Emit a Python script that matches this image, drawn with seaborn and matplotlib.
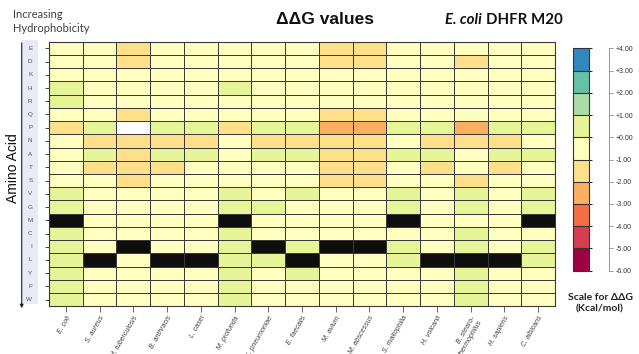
import numpy as np
import pandas as pd
import matplotlib
matplotlib.use("Agg")
import matplotlib.pyplot as plt
import seaborn as sns
from matplotlib.colors import ListedColormap, BoundaryNorm
from matplotlib.cm import ScalarMappable
from matplotlib.patches import Rectangle, FancyArrowPatch

# Residues ordered by increasing hydrophobicity (top to bottom)
residues = ["E", "D", "K", "H", "R", "Q", "P", "N", "A", "T",
            "S", "V", "G", "M", "C", "I", "L", "Y", "F", "W"]

species = ["E. coli", "S. aureus", "M. tuberculosis", "B. anthracis", "L. casei",
           "M. profunda", "K. pneumoniae", "E. faecalis", "M. avium", "M. abscessus",
           "S. maltophilia", "H. volcanii", "B. stearo-\nthermophilus", "H. sapiens",
           "C. albicans"]

# Native residue at position 20 for each species (shown in black)
native = ["M", "L", "I", "L", "L", "M", "I", "L", "I", "I", "M", "L", "L", "L", "M"]

# ddG (kcal/mol) per residue, in the order of `residues`
nan = np.nan
ddg_ecoli = [-0.5, -0.5, -0.5, 0.5, 0.5, -0.5, -1.5, -0.5, -0.5, -0.5,
             -0.5, 0.5, 0.5, 0.0, 0.5, 0.5, 0.5, 0.5, 0.5, 0.5]
ddg_saureus = [-0.5, -0.5, -0.5, -0.5, -0.5, -0.5, 0.5, -1.5, 0.5, -1.5,
               -0.5, -0.5, -0.5, -0.5, -0.5, -0.5, 0.0, -0.5, -0.5, -0.5]
ddg_mtub = [-1.5, -1.5, -0.5, -0.5, -0.5, -1.5, nan, -1.5, -1.5, -1.5,
            -1.5, -0.5, -0.5, -0.5, -0.5, 0.0, -0.5, -0.5, -0.5, -0.5]
ddg_banth = [-0.5, -0.5, -0.5, -0.5, -0.5, -0.5, 0.5, -1.5, 0.5, -1.5,
             -0.5, -0.5, -0.5, -0.5, -0.5, -0.5, 0.0, -0.5, -0.5, -0.5]
ddg_lcasei = [-0.5, -0.5, -0.5, -0.5, -0.5, -0.5, 0.5, -1.5, 0.5, -0.5,
              -0.5, -0.5, -0.5, -0.5, -0.5, -0.5, 0.0, -0.5, -0.5, -0.5]
ddg_mprof = [-0.5, -0.5, -0.5, 0.5, -0.5, -0.5, -1.5, -0.5, -0.5, -0.5,
             -0.5, 0.5, 0.5, 0.0, 0.5, 0.5, 0.5, 0.5, 0.5, 0.5]
ddg_kpneu = [-0.5, -0.5, -0.5, -0.5, -0.5, -0.5, 0.5, -1.5, 0.5, -0.5,
             -0.5, -0.5, 0.5, -0.5, -0.5, 0.0, 0.5, -0.5, -0.5, -0.5]
ddg_efaec = [-0.5, -0.5, -0.5, -0.5, -0.5, -0.5, 0.5, -1.5, 0.5, -0.5,
             -0.5, 0.5, -0.5, -0.5, -0.5, 0.5, 0.0, 0.5, -0.5, -0.5]
ddg_mavium = [-1.5, -1.5, -0.5, -0.5, -0.5, -1.5, -2.5, -1.5, -1.5, -1.5,
              -1.5, -0.5, -0.5, -0.5, -0.5, 0.0, -0.5, -0.5, -0.5, -0.5]
ddg_mabsc = [-1.5, -1.5, -0.5, -0.5, -0.5, -1.5, -2.5, -1.5, -1.5, -1.5,
             -1.5, -0.5, -0.5, -0.5, -0.5, 0.0, -0.5, -0.5, -0.5, -0.5]
ddg_smalt = [-0.5, -0.5, -0.5, -0.5, -0.5, -0.5, 0.5, -0.5, 0.5, -0.5,
             -0.5, 0.5, 0.5, 0.0, -0.5, 0.5, 0.5, -0.5, -0.5, -0.5]
ddg_hvolc = [-0.5, -0.5, -0.5, -0.5, -0.5, -0.5, 0.5, -1.5, 0.5, -1.5,
             -0.5, -0.5, -0.5, -0.5, -0.5, -0.5, 0.0, -0.5, -0.5, -0.5]
ddg_bstear = [-0.5, -1.5, -0.5, -0.5, -0.5, -0.5, -2.5, -1.5, -0.5, -0.5,
              -1.5, 0.5, 0.5, -0.5, 0.5, 0.5, 0.0, 0.5, 0.5, 0.5]
ddg_hsap = [-0.5, -0.5, -0.5, -0.5, -0.5, -0.5, 0.5, -1.5, 0.5, -1.5,
            -0.5, -0.5, -0.5, -0.5, -0.5, -0.5, 0.0, -0.5, -0.5, -0.5]
ddg_calb = [-0.5, -0.5, -0.5, -0.5, -0.5, -0.5, 0.5, -0.5, 0.5, -0.5,
            -0.5, 0.5, 0.5, 0.0, -0.5, 0.5, 0.5, -0.5, -0.5, -0.5]

columns = [ddg_ecoli, ddg_saureus, ddg_mtub, ddg_banth, ddg_lcasei, ddg_mprof,
           ddg_kpneu, ddg_efaec, ddg_mavium, ddg_mabsc, ddg_smalt, ddg_hvolc,
           ddg_bstear, ddg_hsap, ddg_calb]

# Colour scale: ten 1-kcal/mol bins from -6 to +4
scale_ticks = [4, 3, 2, 1, 0, -1, -2, -3, -4, -5, -6]
bin_colors = ["#9e0142", "#d53e4f", "#f46d43", "#fdae61", "#fee08b",
              "#ffffbf", "#e6f598", "#abdda4", "#66c2a5", "#3288bd"]

df = pd.DataFrame({sp: vals for sp, vals in zip(species, columns)}, index=residues)
is_native = pd.DataFrame({sp: [r == nat for r in residues]
                          for sp, nat in zip(species, native)}, index=residues)

cmap = ListedColormap(bin_colors)
vmin, vmax = min(scale_ticks), max(scale_ticks)
grid_color = "#3a3a3a"

W, H = 639, 354
fig = plt.figure(figsize=(W / 100, H / 100), dpi=100)
fig.patch.set_facecolor("white")

def fx(px):
    return px / W

def fy(py):
    return 1 - py / H

ax = fig.add_axes([fx(49), fy(306.3), fx(555) - fx(49), fy(41.7) - fy(306.3)])

sns.heatmap(df, cmap=cmap, vmin=vmin, vmax=vmax, cbar=False,
            linewidths=0.7, linecolor=grid_color, ax=ax)
sns.heatmap(is_native.astype(float), mask=~is_native, cmap=ListedColormap(["#0e0e0e"]),
            cbar=False, linewidths=0.7, linecolor=grid_color, ax=ax)

ax.set_xlabel("")
ax.set_ylabel("")
ax.set_yticks(np.arange(len(residues)) + 0.5)
ax.set_yticklabels(residues, rotation=0, fontsize=4.5, color="#555555",
                   family="Liberation Sans")
ax.set_xticks(np.arange(len(species)) + 0.5)
ax.set_xticklabels(species, rotation=60, ha="right", rotation_mode="anchor",
                   fontsize=5, style="italic", color="#404040",
                   family="Liberation Sans")
ax.tick_params(axis="y", length=3, width=0.7, color="#444444", pad=9)
ax.tick_params(axis="x", length=4, width=0.7, color="#666666", pad=2)
for s in ax.spines.values():
    s.set_visible(True)
    s.set_color(grid_color)
    s.set_linewidth(0.8)

# Residue label band and direction arrow
fig.add_artist(Rectangle((fx(21.7), fy(304)), fx(38.3) - fx(21.7), fy(40) - fy(304),
                         transform=fig.transFigure, facecolor="#e8eaf4",
                         edgecolor="none", zorder=0))
fig.add_artist(FancyArrowPatch((fx(21.7), fy(40)), (fx(21.7), fy(311)),
                               transform=fig.transFigure, arrowstyle="-|>",
                               mutation_scale=5, color="#222222", lw=0.8))

# Colour bar
norm = BoundaryNorm(np.arange(vmin, vmax + 1), cmap.N)
cax = fig.add_axes([fx(572.7), fy(270.7), fx(589.3) - fx(572.7), fy(48.3) - fy(270.7)])
cb = fig.colorbar(ScalarMappable(norm=norm, cmap=cmap), cax=cax, drawedges=True)
cb.set_ticks([])
cb.outline.set_edgecolor("#333333")
cb.outline.set_linewidth(0.8)
cb.dividers.set_color("#333333")
cb.dividers.set_linewidth(0.8)

# Separate scale axis to the right of the bar
sax = fig.add_axes([fx(609) - 0.002, fy(270.7), 0.002, fy(48.3) - fy(270.7)])
sax.patch.set_visible(False)
sax.set_ylim(vmin, vmax)
sax.set_xticks([])
for side in ("top", "bottom", "left"):
    sax.spines[side].set_visible(False)
sax.spines["right"].set_color("#999999")
sax.spines["right"].set_linewidth(0.7)
sax.yaxis.tick_right()
sax.set_yticks(scale_ticks)
sax.set_yticklabels([f"{v:+.2f}" for v in scale_ticks], fontsize=5,
                    color="#333333", family="Liberation Sans")
sax.tick_params(axis="y", length=3, width=0.7, color="#999999", pad=2)

# Titles and annotations
fig.text(fx(12.5), fy(14), "Increasing", fontsize=8, family="Lato",
         color="#404040", va="center", ha="left")
fig.text(fx(12.5), fy(28), "Hydrophobicity", fontsize=8, family="Lato",
         color="#404040", va="center", ha="left")
fig.text(fx(325.5), fy(20), "ΔΔG values", fontsize=12.5, weight="bold",
         family="Liberation Sans", color="#111111", ha="center", va="center")

# Subtitle: italic species name followed by upright text, fitted to 445..562 px
sub_left, sub_right = 445.0, 562.0
t_sp = fig.text(fx(sub_left), fy(20), "E. coli", fontsize=10.5, weight="bold",
                style="italic", family="Lato", color="#111111", ha="left", va="center")
t_rest = fig.text(fx(sub_left), fy(20), "DHFR M20", fontsize=10.5, weight="bold",
                  family="Lato", color="#111111", ha="left", va="center")
renderer = fig.canvas.get_renderer()
w_sp = t_sp.get_window_extent(renderer).width
w_rest = t_rest.get_window_extent(renderer).width
gap = 4.0
scale = (sub_right - sub_left - gap) / (w_sp + w_rest)
for t in (t_sp, t_rest):
    t.set_fontsize(10.5 * scale)
w_sp = t_sp.get_window_extent(renderer).width
t_rest.set_x(fx(sub_left + w_sp + gap))

fig.text(fx(13), fy(168), "Amino Acid", rotation=90, fontsize=10,
         family="Liberation Sans", color="#111111", ha="center", va="center")
fig.text(fx(600), fy(297), "Scale for ΔΔG", fontsize=7.5, weight="bold",
         family="Lato", color="#222222", ha="center", va="center")
fig.text(fx(600), fy(309), "(Kcal/mol)", fontsize=7.5, weight="bold",
         family="Lato", color="#222222", ha="center", va="center")

fig.savefig("out.png", dpi=100)
